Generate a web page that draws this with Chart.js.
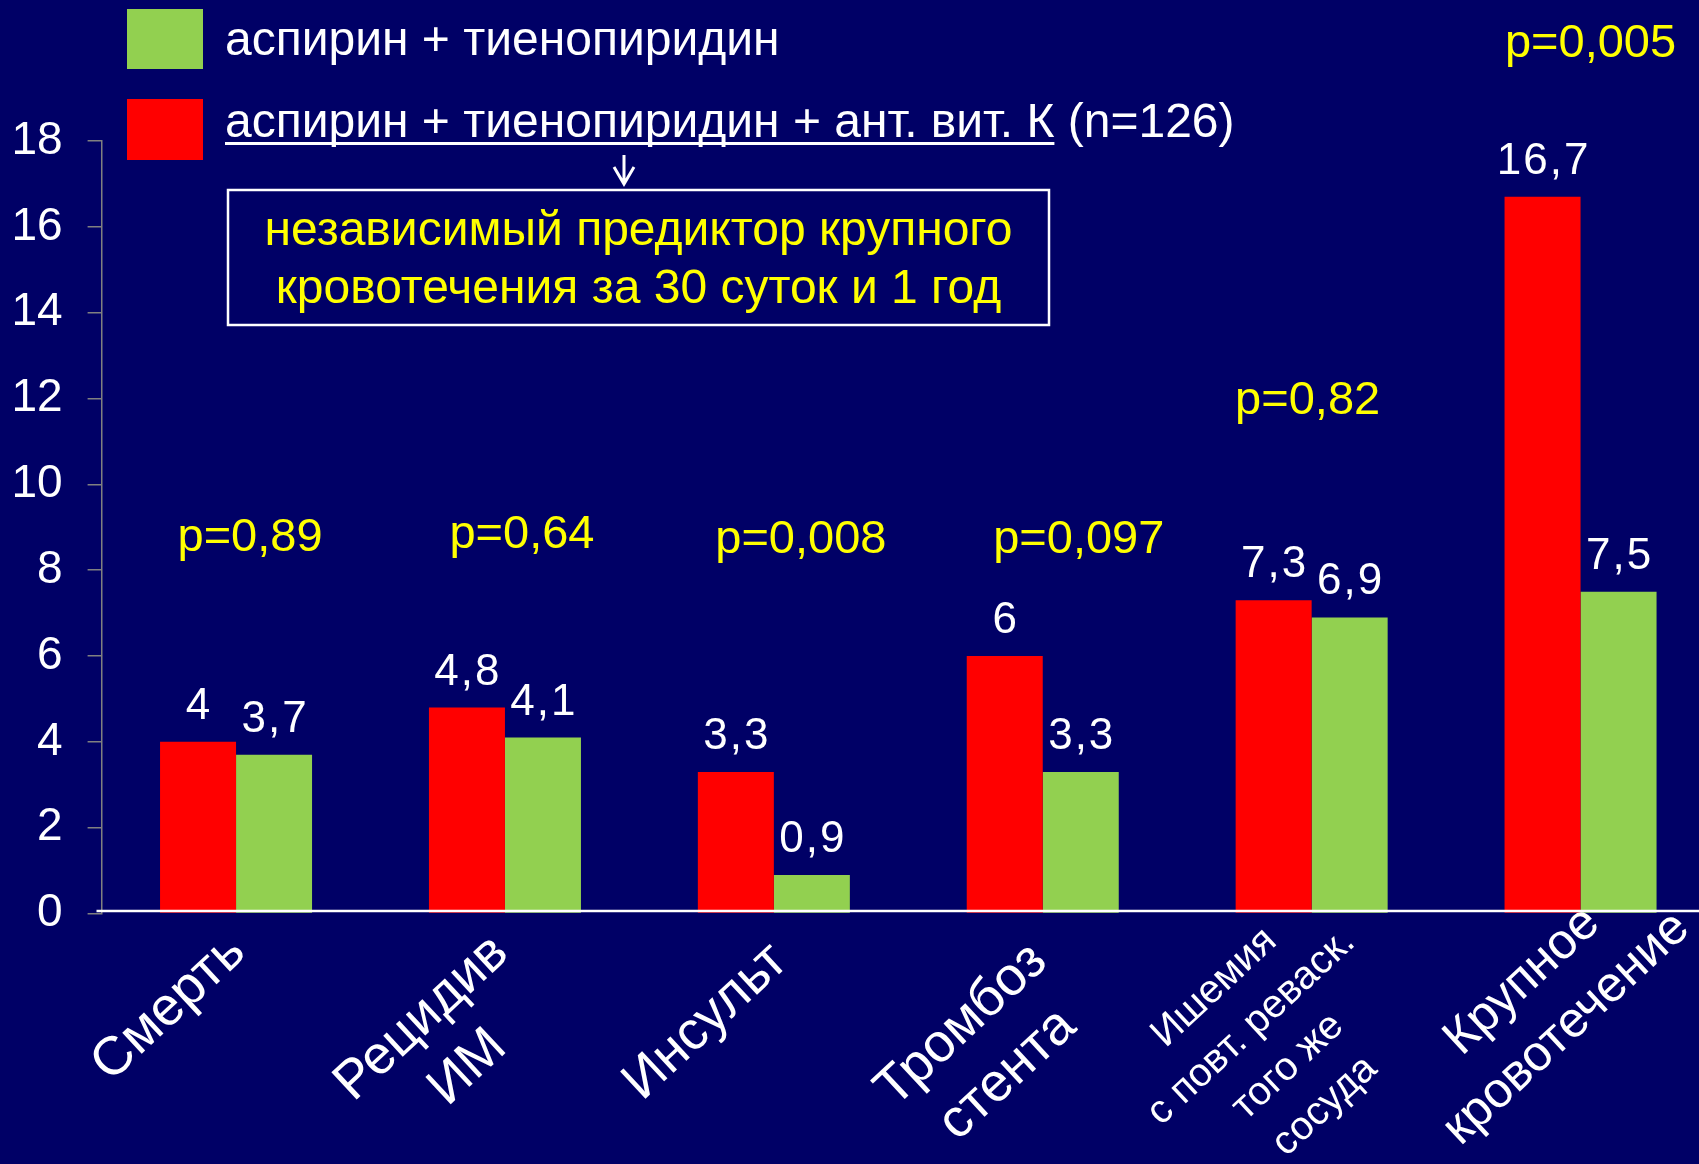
<!DOCTYPE html>
<html><head><meta charset="utf-8">
<script src="https://cdn.jsdelivr.net/npm/chart.js@4"></script>
<style>
html,body{margin:0;padding:0;background:#000066;overflow:hidden;width:1699px;height:1164px}
#wrap{position:absolute;left:0;top:0;width:1715px;height:1164px}
canvas{display:block}
</style></head><body>
<div id="wrap"><canvas id="c" width="1715" height="1164"></canvas></div>
<script>
// ---- data ----
const categories = [['Смерть'], ['Рецидив', 'ИМ'], ['Инсульт'], ['Тромбоз', 'стента'], ['Ишемия', 'с повт. реваск.', 'того же', 'сосуда'], ['Крупное', 'кровотечение']];
const seriesVKA = [4, 4.8, 3.3, 6, 7.3, 16.7];      // аспирин + тиенопиридин + ант. вит. К
const seriesDual = [3.7, 4.1, 0.9, 3.3, 6.9, 7.5];   // аспирин + тиенопиридин
const pValues = ['p=0,89', 'p=0,64', 'p=0,008', 'p=0,097', 'p=0,82', 'p=0,005'];
const yTickValues = [0, 2, 4, 6, 8, 10, 12, 14, 16, 18];
const legendDual = 'аспирин + тиенопиридин';
const legendVKA = 'аспирин + тиенопиридин + ант. вит. К';
const legendVKAsuffix = ' (n=126)';
const boxLines = ['независимый предиктор крупного', 'кровотечения за 30 суток и 1 год'];

// ---- layout (positions / styles only) ----
const FONT = "'Liberation Sans', Arial, sans-serif";
const RED = '#FF0000', GREEN = '#92D050', BG = '#000066', YELLOW = '#FFFF00';
const pLabelLayout = [[14, 8.45], [17, 8.52], [27, 8.4], [36, 8.4], [-4, 11.65], [10, 19.95]]; // [dx px, y in axis units]
const xLabelLayout = [ // [dx from category centre, block centre y, font px, line-height factor]
  [-67, 1008, 54, 1.25], [-60, 1043, 54, 1.25], [-68, 1022, 54, 1.25], [-58, 1050, 54, 1.25], [-42, 1047, 40, 1.35], [-36, 1005, 50, 1.3]
];
const LABEL_ANGLE = 43 * Math.PI / 180;

const overlay = {
  id: 'overlay',
  afterDatasetsDraw(chart) {
    const ctx = chart.ctx;
    const xs = chart.scales.x, ys = chart.scales.y;
    ctx.save();
    // zero (category) line
    ctx.strokeStyle = '#FFFFFF';
    ctx.lineWidth = 2.5;
    ctx.beginPath(); ctx.moveTo(96.5, 911); ctx.lineTo(chart.width, 911); ctx.stroke();

    // value labels
    ctx.fillStyle = '#FFFFFF';
    ctx.font = '44px ' + FONT;
    ctx.textAlign = 'center';
    ctx.textBaseline = 'alphabetic';
    if ('letterSpacing' in ctx) ctx.letterSpacing = '2px';
    chart.data.datasets.forEach((ds, di) => {
      chart.getDatasetMeta(di).data.forEach((bar, i) => {
        ctx.fillText(String(ds.data[i]).replace('.', ','), bar.x + 1, bar.y - 23);
      });
    });
    if ('letterSpacing' in ctx) ctx.letterSpacing = '0px';

    // p-values
    ctx.fillStyle = YELLOW;
    ctx.font = '47px ' + FONT;
    pValues.forEach((p, i) => {
      const [dx, yv] = pLabelLayout[i];
      ctx.fillText(p, xs.getPixelForValue(i) + dx, ys.getPixelForValue(yv));
    });

    // category labels (rotated, centre-aligned lines)
    ctx.fillStyle = '#FFFFFF';
    ctx.textAlign = 'center';
    ctx.textBaseline = 'middle';
    categories.forEach((lines, i) => {
      const [dx, cy, fs, lhf] = xLabelLayout[i];
      const lh = fs * lhf;
      ctx.save();
      ctx.translate(xs.getPixelForValue(i) + dx, cy);
      ctx.rotate(-LABEL_ANGLE);
      ctx.font = fs + 'px ' + FONT;
      lines.forEach((t, k) => {
        ctx.fillText(t, 0, (k - (lines.length - 1) / 2) * lh);
      });
      ctx.restore();
    });

    // legend
    ctx.textAlign = 'left';
    ctx.textBaseline = 'alphabetic';
    ctx.fillStyle = GREEN; ctx.fillRect(127, 9, 76, 60);
    ctx.fillStyle = RED; ctx.fillRect(127, 99, 76, 61);
    ctx.fillStyle = '#FFFFFF';
    ctx.font = '48px ' + FONT;
    ctx.fillText(legendDual, 225, 55);
    ctx.fillText(legendVKA, 225, 137);
    const w = ctx.measureText(legendVKA).width;
    ctx.fillRect(225, 142, w, 3);
    ctx.fillText(legendVKAsuffix, 225 + w, 137);

    // arrow
    ctx.strokeStyle = '#FFFFFF';
    ctx.lineWidth = 3;
    ctx.beginPath();
    ctx.moveTo(624, 155); ctx.lineTo(624, 184);
    ctx.moveTo(614, 167); ctx.lineTo(624, 184); ctx.lineTo(634, 167);
    ctx.stroke();

    // box
    ctx.lineWidth = 2.5;
    ctx.strokeRect(228, 190, 821, 135);
    ctx.fillStyle = YELLOW;
    ctx.textAlign = 'center';
    ctx.font = '48px ' + FONT;
    ctx.fillText(boxLines[0], 638.5, 245);
    ctx.fillText(boxLines[1], 638.5, 303);
    ctx.restore();
  }
};

new Chart(document.getElementById('c'), {
  type: 'bar',
  data: {
    labels: categories,
    datasets: [
      { label: legendVKA + legendVKAsuffix, data: seriesVKA, backgroundColor: RED, borderWidth: 0,
        categoryPercentage: 0.5653, barPercentage: 1 },
      { label: legendDual, data: seriesDual, backgroundColor: GREEN, borderWidth: 0,
        categoryPercentage: 0.5653, barPercentage: 1 }
    ]
  },
  options: {
    responsive: false,
    animation: false,
    devicePixelRatio: 1,
    layout: { padding: { top: 141, bottom: 250.5, left: 0, right: 0 } },
    plugins: { legend: { display: false }, tooltip: { enabled: false } },
    scales: {
      x: {
        ticks: { display: false },
        grid: { display: false, drawTicks: false, tickLength: 0 },
        border: { display: false }
      },
      y: {
        min: 0, max: 18,
        afterFit(scale) { scale.width = 101.6; },
        afterBuildTicks(scale) { scale.ticks = yTickValues.map(v => ({ value: v })); },
        ticks: { color: '#FFFFFF', font: { family: FONT, size: 46 }, padding: 25 },
        grid: { display: true, drawOnChartArea: false, drawTicks: true, tickLength: 14, color: '#808080', lineWidth: 1.5 },
        border: { display: true, color: '#808080', width: 1.5 }
      }
    }
  },
  plugins: [overlay]
});
</script>
</body></html>
